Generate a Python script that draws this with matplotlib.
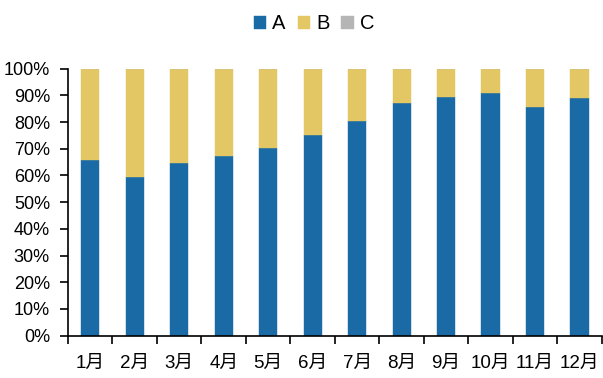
import matplotlib
matplotlib.use("Agg")
import matplotlib.pyplot as plt
from matplotlib.ticker import PercentFormatter, FixedLocator
import numpy as np

plt.rcParams['font.family'] = ['Liberation Sans', 'Noto Sans CJK SC', 'DejaVu Sans']

months = ["1月", "2月", "3月", "4月", "5月", "6月", "7月", "8月", "9月", "10月", "11月", "12月"]
share_a = [65.9, 59.6, 64.8, 67.3, 70.4, 75.0, 80.4, 87.3, 89.4, 90.9, 85.5, 89.0]
share_b = [34.1, 40.4, 35.2, 32.7, 29.6, 25.0, 19.6, 12.7, 10.6, 9.1, 14.5, 11.0]
share_c = [0, 0, 0, 0, 0, 0, 0, 0, 0, 0, 0, 0]
series_names = ["A", "B", "C"]
colors = ["#1A6AA5", "#E3C764", "#B5B5B5"]

fig = plt.figure(figsize=(6.03, 3.78), dpi=100)
ax = fig.add_axes([0.1128, 0.1119, 0.8852, 0.7064])

x = np.arange(len(months))
bottom = np.zeros(len(months))
for name, vals, col in zip(series_names, [share_a, share_b, share_c], colors):
    vals = np.array(vals) / 100.0
    ax.bar(x, vals, width=0.41, bottom=bottom, color=col, label=name,
           edgecolor=col, linewidth=0.3)
    bottom += vals

ax.set_xlim(-0.5, len(months) - 0.5)
ax.set_ylim(0, 1)
ax.yaxis.set_major_locator(FixedLocator(np.linspace(0, 1, 11)))
ax.yaxis.set_major_formatter(PercentFormatter(xmax=1, decimals=0))

# category labels centred, ticks drawn on the boundaries
ax.set_xticks(x)
ax.set_xticklabels(months)
ax.xaxis.set_minor_locator(FixedLocator(np.arange(-0.5, len(months), 1.0)))
ax.tick_params(axis='x', which='major', length=0, pad=14, labelsize=13.5)
ax.tick_params(axis='x', which='minor', length=6, width=1.2, direction='out')
ax.tick_params(axis='y', length=6, width=1.2, direction='out', labelsize=13, pad=7)

for s in ['top', 'right']:
    ax.spines[s].set_visible(False)
for s in ['left', 'bottom']:
    ax.spines[s].set_linewidth(1.2)
    ax.spines[s].set_color('black')

handles, labels = ax.get_legend_handles_labels()
fig.legend(handles, labels, loc='upper center', bbox_to_anchor=(0.521, 1.01), ncol=3,
           frameon=False, fontsize=14.5, handlelength=0.6, handleheight=0.6,
           handletextpad=0.3, columnspacing=0.6)

fig.savefig("out.png", dpi=100)
